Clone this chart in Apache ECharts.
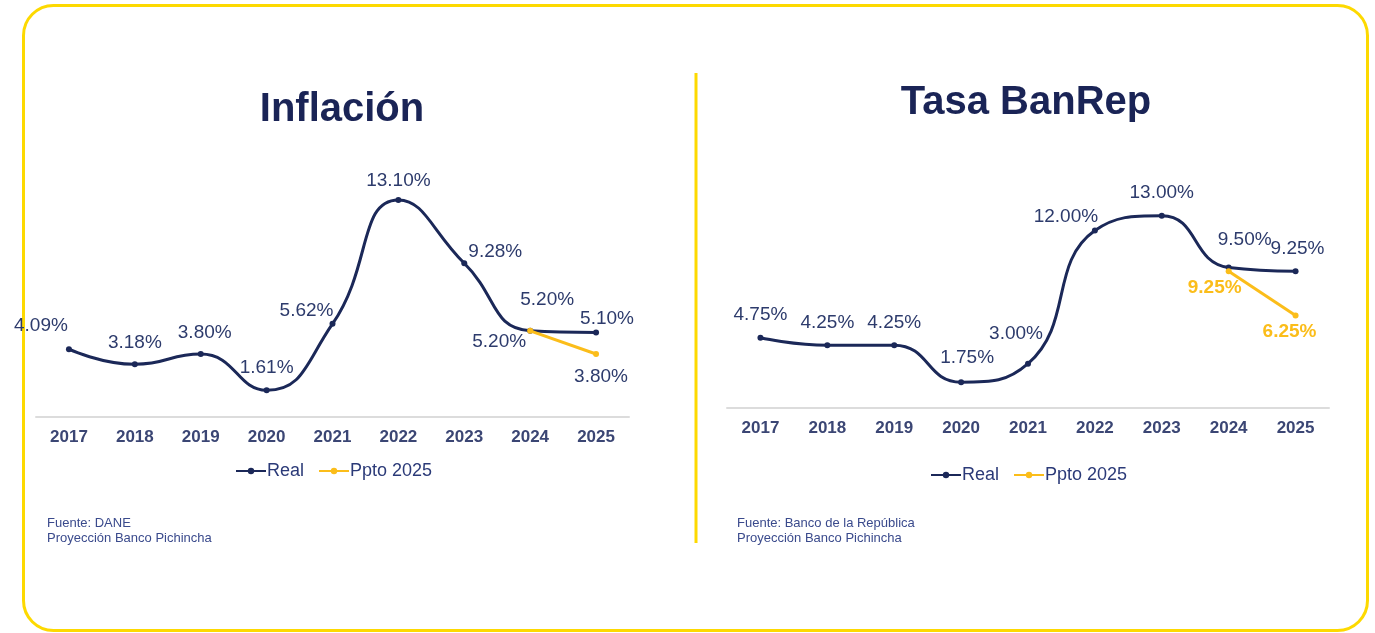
<!DOCTYPE html>
<html>
<head>
<meta charset="utf-8">
<script src="https://cdn.jsdelivr.net/npm/echarts@6/dist/echarts.min.js"></script>
<style>
  html, body { margin: 0; padding: 0; background: #fff; }
  #chart { width: 1375px; height: 633px; }
</style>
</head>
<body>
<div id="chart"></div>
<script>
const years = ["2017", "2018", "2019", "2020", "2021", "2022", "2023", "2024", "2025"];

const inflacionReal = [4.09, 3.18, 3.80, 1.61, 5.62, 13.10, 9.28, 5.20, 5.10];
const inflacionPpto = [null, null, null, null, null, null, null, 5.20, 3.80];

const tasaReal = [4.75, 4.25, 4.25, 1.75, 3.00, 12.00, 13.00, 9.50, 9.25];
const tasaPpto = [null, null, null, null, null, null, null, 9.25, 6.25];

const NAVY = "#1b2858";
const LABEL_NAVY = "#2d3b6c";
const GOLD = "#fbbd1a";
const FRAME = "#fdd900";

// label nudges (px) so they sit like in the original slide
const offInfReal = [[-28, -23], [0, -22], [4, -21], [0, -23], [-26, -13], [0, -19], [31, -11], [17, -31], [11, -14]];
const offInfPpto = [null, null, null, null, null, null, null, [-31, 11], [5, 23]];
const offTasaReal = [[0, -23], [0, -22], [0, -22], [6, -24], [-12, -30], [-29, -14], [0, -23], [16, -28], [2, -22]];
const offTasaPpto = [null, null, null, null, null, null, null, [-14, 17], [-6, 16]];

function withLabels(values, offsets, labelStyle) {
  return values.map((v, i) => {
    if (v === null) return null;
    return {
      value: v,
      label: Object.assign({ show: true, position: "inside", offset: offsets[i] }, labelStyle),
    };
  });
}

const baseLabel = {
  formatter: (p) => p.value.toFixed(2) + "%",
  fontFamily: "Liberation Sans",
  fontSize: 19,
  color: LABEL_NAVY,
};
const goldLabel = Object.assign({}, baseLabel, { color: GOLD, fontWeight: "bold" });

function lineSeries(name, values, offsets, color, labelStyle, idx) {
  return {
    name: name,
    type: "line",
    xAxisIndex: idx,
    yAxisIndex: idx,
    smooth: 0.5,
    symbol: "circle",
    symbolSize: 6,
    lineStyle: { color: color, width: 3 },
    itemStyle: { color: color },
    connectNulls: false,
    data: withLabels(values, offsets, labelStyle),
    z: name === "Real" ? 3 : 4,
  };
}

function xAxisFor(idx) {
  return {
    type: "category",
    gridIndex: idx,
    data: years,
    boundaryGap: true,
    axisLine: { lineStyle: { color: "#dcdcdc", width: 2 } },
    axisTick: { show: false },
    axisLabel: {
      color: "#3b4674",
      fontFamily: "Liberation Sans",
      fontWeight: "bold",
      fontSize: 17,
      margin: 12,
    },
  };
}

function yAxisFor(idx) {
  return {
    type: "value",
    gridIndex: idx,
    min: 0,
    max: 14,
    show: false,
    splitLine: { show: false },
  };
}

const legendStyle = {
  data: ["Real", "Ppto 2025"],
  itemWidth: 30,
  itemHeight: 8,
  itemGap: 14,
  textStyle: { color: "#2b3a78", fontFamily: "Liberation Sans", fontSize: 18, padding: [0, 0, 0, -4] },
};

const footStyle = { fill: "#3a4a8c", fontFamily: "Liberation Sans", fontSize: 13, lineHeight: 15 };

const chart = echarts.init(document.getElementById("chart"));
chart.setOption({
  animation: false,
  backgroundColor: "#ffffff",
  title: [
    {
      text: "Inflación",
      left: 337,
      top: 85,
      textAlign: "center",
      textStyle: { color: "#1a2456", fontFamily: "Liberation Sans", fontWeight: "bold", fontSize: 40 },
    },
    {
      text: "Tasa BanRep",
      left: 1021,
      top: 78,
      textAlign: "center",
      textStyle: { color: "#1a2456", fontFamily: "Liberation Sans", fontWeight: "bold", fontSize: 40 },
    },
  ],
  legend: [
    Object.assign({ left: 230, top: 457 }, legendStyle),
    Object.assign({ left: 925, top: 461 }, legendStyle),
  ],
  grid: [
    { left: 36, width: 593, top: 185, height: 232 },
    { left: 727, width: 602, top: 201, height: 207 },
  ],
  xAxis: [xAxisFor(0), xAxisFor(1)],
  yAxis: [yAxisFor(0), yAxisFor(1)],
  series: [
    lineSeries("Real", inflacionReal, offInfReal, NAVY, baseLabel, 0),
    lineSeries("Ppto 2025", inflacionPpto, offInfPpto, GOLD, baseLabel, 0),
    lineSeries("Real", tasaReal, offTasaReal, NAVY, baseLabel, 1),
    lineSeries("Ppto 2025", tasaPpto, offTasaPpto, GOLD, goldLabel, 1),
  ],
  graphic: [
    {
      type: "rect",
      silent: true,
      shape: { x: 23.5, y: 5.5, width: 1344, height: 625, r: 30 },
      style: { fill: "none", stroke: FRAME, lineWidth: 3 },
    },
    {
      type: "line",
      silent: true,
      shape: { x1: 696, y1: 73, x2: 696, y2: 543 },
      style: { stroke: FRAME, lineWidth: 3 },
    },
    {
      type: "text",
      left: 47,
      top: 516,
      style: Object.assign({ text: "Fuente: DANE\nProyección Banco Pichincha" }, footStyle),
    },
    {
      type: "text",
      left: 737,
      top: 516,
      style: Object.assign({ text: "Fuente: Banco de la República\nProyección Banco Pichincha" }, footStyle),
    },
  ],
});
</script>
</body>
</html>
